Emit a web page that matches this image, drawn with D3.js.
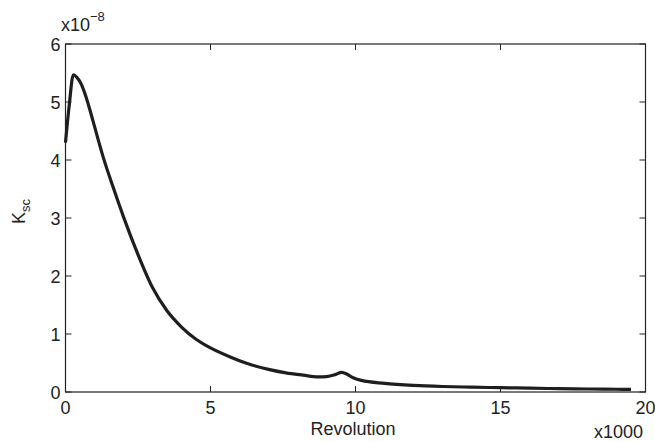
<!DOCTYPE html>
<html>
<head>
<meta charset="utf-8">
<script src="https://cdn.jsdelivr.net/npm/d3@7"></script>
<style>
  body { margin: 0; background: #fff; }
  text { font-family: "Liberation Sans", Arial, sans-serif; fill: #222; }
</style>
</head>
<body>
<script>
// revolution (x1000) and Ksc (x1e-8)
const revolution = [0, 0.13, 0.27, 0.4, 0.55, 0.7, 0.85, 1.0, 1.3, 1.65, 2.0, 2.5, 3.0,
  3.5, 4.0, 4.5, 5.0, 5.7, 6.4, 7.0, 7.6, 8.2, 8.7, 9.0, 9.3, 9.52, 9.7, 9.9, 10.2, 11, 12,
  13, 14, 15, 16, 17, 18, 19, 19.5];
const ksc = [4.3, 4.95, 5.47, 5.42, 5.3, 5.1, 4.85, 4.58, 4.05, 3.52, 3.02, 2.37, 1.8,
  1.4, 1.12, 0.91, 0.76, 0.6, 0.47, 0.39, 0.33, 0.29, 0.26, 0.265, 0.3, 0.34, 0.31, 0.25,
  0.2, 0.15, 0.115, 0.095, 0.083, 0.074, 0.066, 0.058, 0.052, 0.047, 0.045];
const xTicks = [0, 5, 10, 15, 20];
const yTicks = [0, 1, 2, 3, 4, 5, 6];

const w = 655;
const h = 442;
const margin = { left: 65.5, right: 9.5, top: 44, bottom: 50 };

const svg = d3.select('body').append('svg').attr('width', w).attr('height', h);

const xScale = d3.scaleLinear().domain([0, 20]).range([margin.left, w - margin.right]);
const yScale = d3.scaleLinear().domain([0, 6]).range([h - margin.bottom, margin.top]);

const data = revolution.map((r, i) => [r, ksc[i]]);

// box
svg.append('rect')
  .attr('x', xScale(0)).attr('y', yScale(6))
  .attr('width', xScale(20) - xScale(0)).attr('height', yScale(0) - yScale(6))
  .attr('fill', 'none').attr('stroke', '#222').attr('stroke-width', 1.2);

const tickLen = 6;
// x ticks bottom + top, inside
xTicks.forEach((t) => {
  svg.append('line').attr('x1', xScale(t)).attr('x2', xScale(t))
    .attr('y1', yScale(0)).attr('y2', yScale(0) - tickLen)
    .attr('stroke', '#222');
  svg.append('line').attr('x1', xScale(t)).attr('x2', xScale(t))
    .attr('y1', yScale(6)).attr('y2', yScale(6) + tickLen)
    .attr('stroke', '#222');
  svg.append('text').attr('x', xScale(t)).attr('y', yScale(0) + 22)
    .attr('text-anchor', 'middle').attr('font-size', 18).text(t);
});
// y ticks left + right, inside
yTicks.forEach((t) => {
  svg.append('line').attr('x1', xScale(0)).attr('x2', xScale(0) + tickLen)
    .attr('y1', yScale(t)).attr('y2', yScale(t))
    .attr('stroke', '#222');
  svg.append('line').attr('x1', xScale(20)).attr('x2', xScale(20) - tickLen)
    .attr('y1', yScale(t)).attr('y2', yScale(t))
    .attr('stroke', '#222');
  svg.append('text').attr('x', xScale(0) - 5).attr('y', yScale(t) + 6.5)
    .attr('text-anchor', 'end').attr('font-size', 18).text(t);
});

// curve
const line = d3.line()
  .x((d) => xScale(d[0]))
  .y((d) => yScale(d[1]))
  .curve(d3.curveMonotoneX);

svg.append('path').datum(data)
  .attr('d', line)
  .attr('fill', 'none')
  .attr('stroke', '#1e1e1e')
  .attr('stroke-width', 3.2)
  .attr('stroke-linejoin', 'round');

// labels
svg.append('text').attr('x', 353).attr('y', 435)
  .attr('text-anchor', 'middle').attr('font-size', 18).text('Revolution');

svg.append('text').attr('x', 643).attr('y', 438)
  .attr('text-anchor', 'end').attr('font-size', 18).text('x1000');

const expo = svg.append('text').attr('x', 61).attr('y', 31).attr('font-size', 18);
expo.append('tspan').text('x10');
expo.append('tspan').attr('font-size', 13).attr('dy', -10).text('\u22128');

const yl = svg.append('text')
  .attr('transform', 'translate(25,224) rotate(-90)')
  .attr('font-size', 18);
yl.append('tspan').text('K');
yl.append('tspan').attr('font-size', 13).attr('dy', 5).text('sc');
</script>
</body>
</html>
